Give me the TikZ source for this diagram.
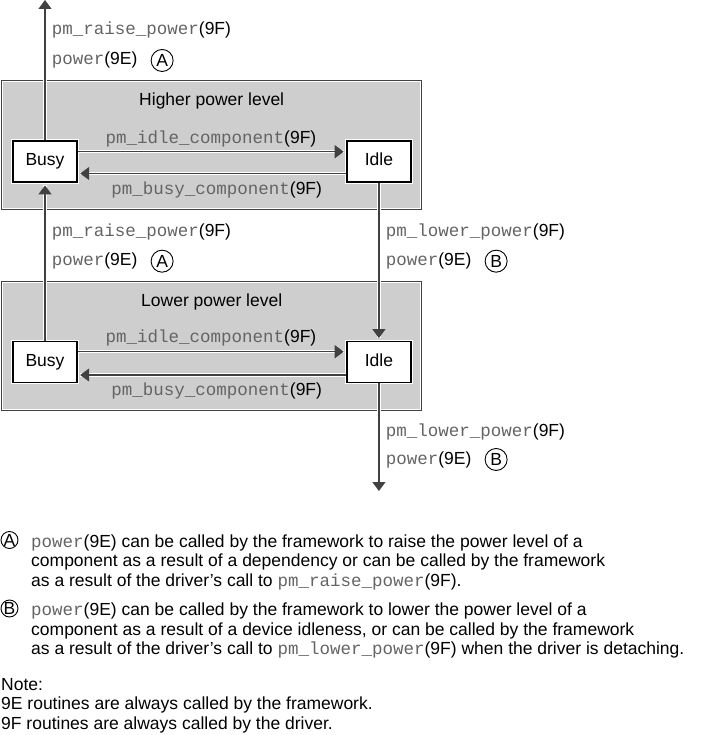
\documentclass[tikz,border=0pt]{standalone}
\usepackage{fontspec}
\setmainfont{Liberation Sans}
\newfontfamily\codefont{Liberation Mono}
\usetikzlibrary{arrows.meta, positioning}
\usepackage{xcolor}
\definecolor{lgray}{RGB}{206,206,206}
\definecolor{dgray}{RGB}{65,65,65}
\definecolor{cgray}{RGB}{100,100,100}
\newcommand\fn[1]{{\codefont\color{cgray}#1}}

\begin{document}
\begin{tikzpicture}[x=1pt, y=-1pt,
    every node/.style={font=\fontsize{17.5}{19.5}\selectfont},
    level/.style={draw=dgray, line width=1.2pt, fill=lgray, minimum width=420pt, minimum height=129pt, inner sep=0pt},
    rim/.style={draw=white, line width=0.8pt},
    state/.style={draw=black, line width=1.4pt, fill=white, minimum width=64pt, minimum height=41pt,
                  inner sep=0pt, text height=12.6pt, text depth=3.6pt,
                  preaction={draw=white, line width=3.6pt}},
    call/.style={inner sep=0pt, anchor=base west},
    letterring/.style={circle, draw, line width=0.9pt, minimum size=22pt, inner sep=0pt},
    note/.style={inner sep=0pt, anchor=base west, align=left},
    arrow/.style={-{Triangle[width=13pt, length=9pt]}, line width=1.2pt, draw=dgray,
                  preaction={draw=white, line width=3.4pt, -}},
]
\useasboundingbox (0,0) rectangle (713,735);

% power levels
\node[level] (highlevel) at (211.7,145.3) {};
\node[level] (lowlevel) at (211.7,346.2) {};
\draw[rim] ([xshift=1.6pt, yshift=-1.6pt]highlevel.north west) rectangle ([xshift=-1.6pt, yshift=1.6pt]highlevel.south east);
\draw[rim] ([xshift=1.6pt, yshift=-1.6pt]lowlevel.north west) rectangle ([xshift=-1.6pt, yshift=1.6pt]lowlevel.south east);
\node[anchor=base] (hightitle) at (211.7,106) {Higher power level};
\node[anchor=base] (lowtitle) at (211.7,306.5) {Lower power level};

\node[state] (busyhigh) at (45,161.5) {Busy};
\node[state] (idlehigh) at (378.9,161.5) {Idle};
\node[state] (busylow) at (45,362) {Busy};
\node[state] (idlelow) at (378.9,362) {Idle};

\coordinate (topend) at (45,0);
\coordinate (botend) at (378.9,491);

% inside each level
\draw[arrow, shorten >=2.5pt] ([yshift=9.8pt]busyhigh.east) -- ([yshift=9.8pt]idlehigh.west);
\draw[arrow, shorten >=2.5pt] ([yshift=-12pt]idlehigh.west) -- ([yshift=-12pt]busyhigh.east);
\draw[arrow, shorten >=2.5pt] ([yshift=10.3pt]busylow.east) -- ([yshift=10.3pt]idlelow.west);
\draw[arrow, shorten >=2.5pt] ([yshift=-13pt]idlelow.west) -- ([yshift=-13pt]busylow.east);

\node[anchor=base] (idlecallhigh) at (211,143.3) {\fn{pm\_idle\_component}(9F)};
\node[anchor=base] (busycallhigh) at (216.7,194.3) {\fn{pm\_busy\_component}(9F)};
\node[anchor=base] (idlecalllow) at (211,342.7) {\fn{pm\_idle\_component}(9F)};
\node[anchor=base] (busycalllow) at (216.7,395) {\fn{pm\_busy\_component}(9F)};

% between levels
\draw[arrow] (busyhigh.north) -- (topend);
\draw[arrow, shorten >=2.7pt] (busylow.north) -- (busyhigh.south);
\draw[arrow, shorten >=2.7pt] (idlehigh.south) -- (idlelow.north);
\draw[arrow] (idlelow.south) -- (botend);

\node[call] (raisetop) at (51.7,35) {\fn{pm\_raise\_power}(9F)};
\node[call] (powertop) at (51.7,65) {\fn{power}(9E)};
\node[letterring, right=13pt of powertop] (ringtop) {A};

\node[call] (raisemid) at (51.7,236.7) {\fn{pm\_raise\_power}(9F)};
\node[call] (powermid) at (51.7,265.7) {\fn{power}(9E)};
\node[letterring, right=13pt of powermid] (ringmid) {A};

\node[call] (lowermid) at (385.7,236.7) {\fn{pm\_lower\_power}(9F)};
\node[call] (powerright) at (385.7,265.7) {\fn{power}(9E)};
\node[letterring, right=13pt of powerright] (ringright) {B};

\node[call] (lowerbot) at (385.7,436.7) {\fn{pm\_lower\_power}(9F)};
\node[call] (powerbot) at (385.7,464) {\fn{power}(9E)};
\node[letterring, right=13pt of powerbot] (ringbot) {B};

% notes (base = last line)
\node[letterring, minimum size=17pt] (noteA) at (9.5,540) {A};
\node[note] (textA) at (31,586) {\fn{power}(9E) can be called by the framework to raise the power level of a\\
  component as a result of a dependency or can be called by the framework\\
  as a result of the driver's call to \fn{pm\_raise\_power}(9F).};
\node[letterring, minimum size=17pt] (noteB) at (9.5,608.5) {B};
\node[note] (textB) at (31,654.5) {\fn{power}(9E) can be called by the framework to lower the power level of a\\
  component as a result of a device idleness, or can be called by the framework\\
  as a result of the driver's call to \fn{pm\_lower\_power}(9F) when the driver is detaching.};
\node[note] (footnote) at (1,729) {Note:\\
  9E routines are always called by the framework.\\
  9F routines are always called by the driver.};

\end{tikzpicture}
\end{document}
